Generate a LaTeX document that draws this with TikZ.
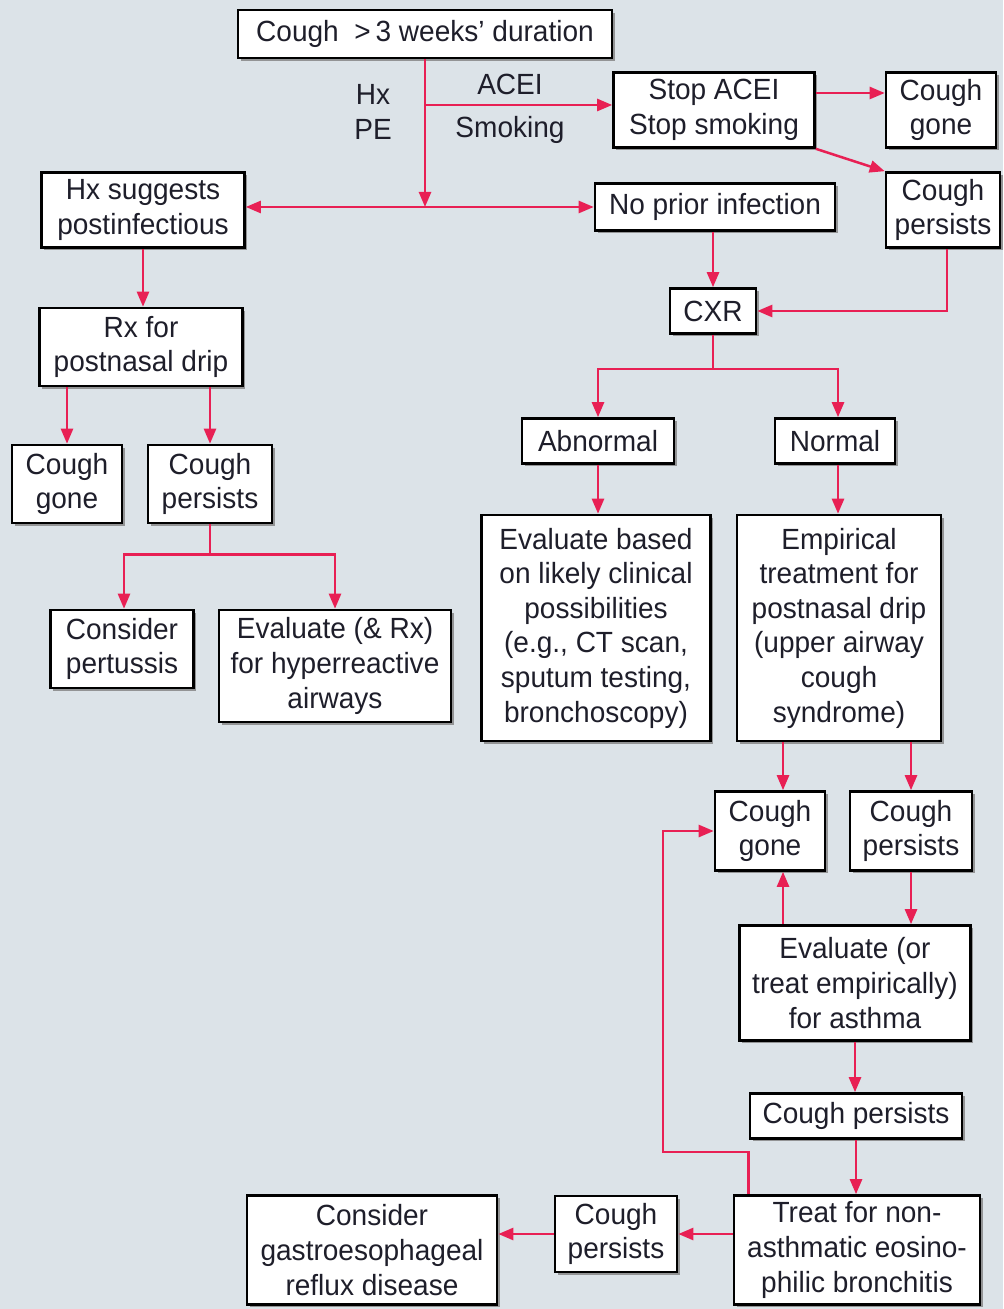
\documentclass[tikz,border=0pt]{standalone}
\usepackage{fontspec}
\setmainfont{Liberation Sans}[FakeStretch=0.96]
\usepackage{tikz}
\usetikzlibrary{arrows.meta,shadows}
\definecolor{flowred}{RGB}{232,32,84}
\definecolor{flowbg}{RGB}{220,227,232}
\definecolor{flowtext}{RGB}{30,30,42}
\tikzset{
	box/.style={draw=black, line width=1.3pt, fill=white, align=center, inner sep=1pt, text=flowtext,
		drop shadow={shadow xshift=1.4pt, shadow yshift=-1.4pt, fill=black!45, opacity=0.9}},
	dim/.style 2 args={minimum width=#1*0.5pt, minimum height=#2*0.5pt},
	flow/.style={draw=flowred, line width=1.25pt},
	lbl/.style={text=flowtext, align=center}
}
\begin{document}
\begin{tikzpicture}[x=0.5pt, y=-0.5pt, >={Triangle[length=7.5pt,width=6pt]}, font=\fontsize{14.6}{17.3}\selectfont]
			\useasboundingbox (0,0) rectangle (1003,1309);
			\fill[flowbg] (0,0) rectangle (1003,1309);
			\node[box, dim={374}{48}] (nodeTop) at (425,34) {Cough \ >\,3 weeks' duration};
			\node[lbl] (nodeHxPE) at (373,112) {Hx\\PE};
			\node[lbl] (nodeACEI) at (510,84) {ACEI};
			\node[lbl] (nodeSmoking) at (510,130) {Smoking};
			\node[box, dim={201}{75}] (nodeStop) at (714,110) {Stop ACEI\\Stop smoking};
			\node[box, dim={110}{75}] (nodeGoneA) at (941,110) {Cough\\gone};
			\node[box, dim={114}{75}] (nodePersA) at (943,210) {Cough\\persists};
			\node[box, dim={203}{75}] (nodeHx) at (143,210) {Hx suggests\\postinfectious};
			\node[box, dim={240}{47}] (nodeNoInf) at (715,207) {No prior infection};
			\node[box, dim={86}{45}] (nodeCXR) at (713,311) {CXR};
			\node[box, dim={203}{78}] (nodeRx) at (141,347) {Rx for\\postnasal drip};
			\node[box, dim={110}{78}] (nodeGoneL) at (67,484) {Cough\\gone};
			\node[box, dim={124}{78}] (nodePersL) at (210,484) {Cough\\persists};
			\node[box, dim={152}{45}] (nodeAbn) at (598,441) {Abnormal};
			\node[box, dim={120}{45}] (nodeNormal) at (835,441) {Normal};
			\node[box, dim={229}{226}] (nodeEvalB) at (596,628) {Evaluate based\\on likely clinical\\possibilities\\(e.g., CT scan,\\sputum testing,\\bronchoscopy)};
			\node[box, dim={204}{226}] (nodeEmp) at (839,628) {Empirical\\treatment for\\postnasal drip\\(upper airway\\cough\\syndrome)};
			\node[box, dim={143}{78}] (nodePert) at (122,649) {Consider\\pertussis};
			\node[box, dim={232}{112}] (nodeHyper) at (335,666) {Evaluate (\& Rx)\\for hyperreactive\\airways};
			\node[box, dim={110}{79}] (nodeGoneB) at (770,831) {Cough\\gone};
			\node[box, dim={122}{79}] (nodePersB) at (911,831) {Cough\\persists};
			\node[box, dim={231}{115}] (nodeAsthma) at (855,983) {Evaluate (or\\treat empirically)\\for asthma};
			\node[box, dim={212}{45}] (nodePersC) at (856,1116) {Cough persists};
			\node[box, dim={246}{109}] (nodeTreat) at (857,1250) {Treat for non-\\asthmatic eosino-\\philic bronchitis};
			\node[box, dim={122}{76}] (nodePersD) at (616,1234) {Cough\\persists};
			\node[box, dim={250}{109}] (nodeGERD) at (372,1250) {Consider\\gastroesophageal\\reflux disease};
			\coordinate (cLoop) at (663,1152);
			\draw[flow,->] (nodeTop.south) -- (nodeTop.south |- nodeNoInf.west);
			\draw[flow,<->] (nodeHx.east |- nodeNoInf.west) -- (nodeNoInf.west);
			\draw[flow,->] (nodeTop.south |- 0,105) -- ([yshift=2.5pt]nodeStop.west);
			\draw[flow,->] ([yshift=8.5pt]nodeStop.east) -- ([yshift=8.5pt]nodeStop.east -| nodeGoneA.west);
			\draw[flow,->] (nodeStop.south east) -- (nodePersA.north west);
			\draw[flow,->] ([xshift=2pt]nodePersA.south) |- (nodeCXR.east);
			\draw[flow,->] (nodeCXR.north |- nodeNoInf.south) -- (nodeCXR.north);
			\draw[flow] (nodeCXR.south) -- ++(0,34) coordinate (cSplitCXR);
			\draw[flow,->] (cSplitCXR) -| (nodeAbn.north);
			\draw[flow,->] (cSplitCXR) -| ([xshift=1.5pt]nodeNormal.north);
			\draw[flow,->] (nodeAbn.south) -- (nodeAbn.south |- nodeEvalB.north);
			\draw[flow,->] ([xshift=1.5pt]nodeNormal.south) -- ([xshift=1.5pt]nodeNormal.south |- nodeEmp.north);
			\draw[flow,->] ([xshift=6.5pt]nodeGoneB.north |- nodeEmp.south) -- ([xshift=6.5pt]nodeGoneB.north);
			\draw[flow,->] (nodePersB.north |- nodeEmp.south) -- (nodePersB.north);
			\draw[flow,->] (nodePersB.south) -- (nodePersB.south |- nodeAsthma.north);
			\draw[flow,->] ([xshift=6.5pt]nodeGoneB.south |- nodeAsthma.north) -- ([xshift=6.5pt]nodeGoneB.south);
			\draw[flow,->] (nodeAsthma.south) -- (nodeAsthma.south |- nodePersC.north);
			\draw[flow,->] (nodePersC.south) -- (nodePersC.south |- nodeTreat.north);
			\draw[flow,->] ([xshift=8pt]nodeTreat.north west) |- (cLoop) |- (nodeGoneB.west);
			\draw[flow,->] (nodeTreat.west |- nodePersD.east) -- (nodePersD.east);
			\draw[flow,->] (nodePersD.west) -- (nodePersD.west -| nodeGERD.east);
			\draw[flow,->] (nodeHx.south) -- (nodeHx.south |- nodeRx.north);
			\draw[flow,->] (nodeGoneL.north |- nodeRx.south) -- (nodeGoneL.north);
			\draw[flow,->] (nodePersL.north |- nodeRx.south) -- (nodePersL.north);
			\draw[flow] (nodePersL.south) -- ++(0,30) coordinate (cSplitL);
			\draw[flow,->] (cSplitL) -| ([xshift=1pt]nodePert.north);
			\draw[flow,->] (cSplitL) -| (nodeHyper.north);
		\end{tikzpicture}
\end{document}
